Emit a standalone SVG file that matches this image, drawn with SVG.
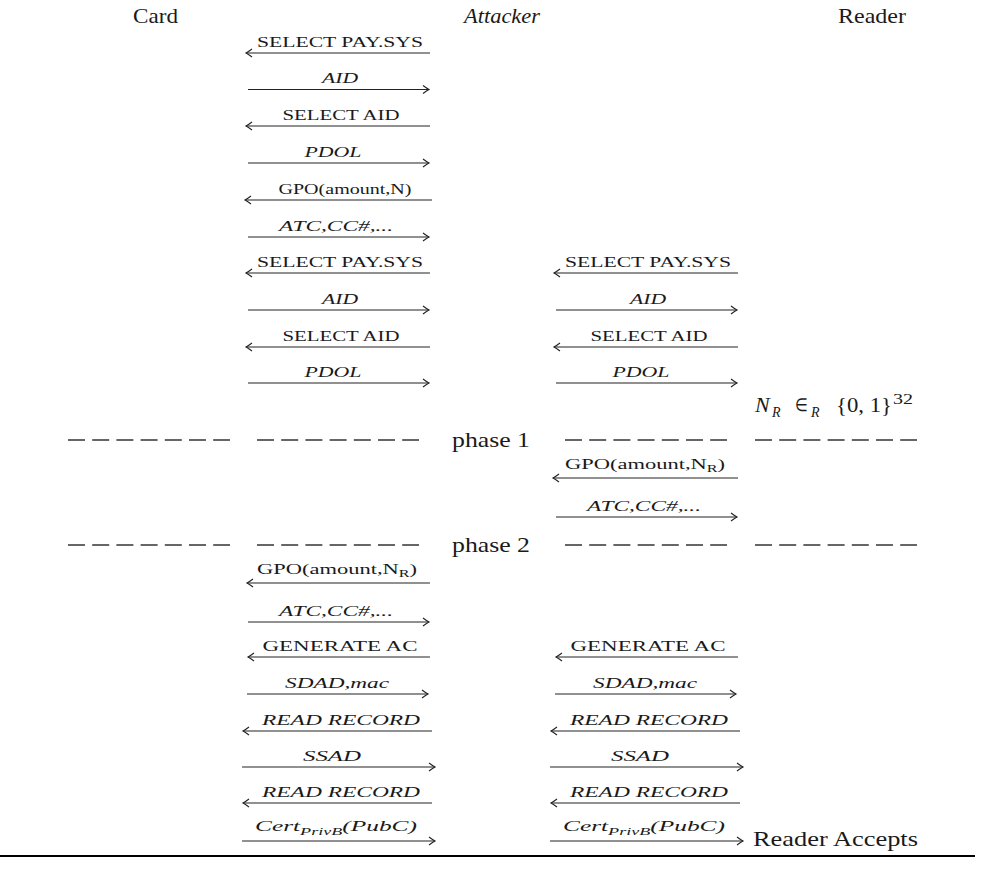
<svg xmlns="http://www.w3.org/2000/svg" width="987" height="871" viewBox="0 0 987 871">
<defs>
<style>
text{font-family:"Liberation Serif","Times New Roman",serif;fill:#1a1a1a}
.hdr{font-size:21px}
.lbl{font-size:14px;text-anchor:middle}
.it{font-style:italic}
.arr{stroke:#222;stroke-width:1.2;fill:none}
.dash{stroke:#666;stroke-width:2;stroke-dasharray:17 7.2}
.sub{font-size:10px}
</style>
<marker id="ah" viewBox="-8 -5 10 10" refX="0" refY="0" markerWidth="10" markerHeight="10" markerUnits="userSpaceOnUse" orient="auto-start-reverse">
<path d="M-6,-4 Q-2,-1 0,0 Q-2,1 -6,4" fill="none" stroke="#222" stroke-width="1.1"/>
</marker>
</defs>
<rect width="987" height="871" fill="#fff"/>

<g id="card"><text class="hdr" x="133" y="23" textLength="45" lengthAdjust="spacingAndGlyphs">Card</text></g>
<g id="attacker"><text class="hdr it" x="464" y="23" textLength="76" lengthAdjust="spacingAndGlyphs">Attacker</text></g>
<g id="reader"><text class="hdr" x="838" y="23" textLength="68" lengthAdjust="spacingAndGlyphs">Reader</text></g>

<g id="connectors">
<line class="arr" x1="246" y1="53" x2="430" y2="53" marker-start="url(#ah)"/>
<text class="lbl" x="340" y="47" textLength="166" lengthAdjust="spacingAndGlyphs">SELECT PAY.SYS</text>
<line class="arr" x1="248" y1="89.5" x2="429" y2="89.5" marker-end="url(#ah)"/>
<text class="lbl it" x="340" y="83" textLength="36" lengthAdjust="spacingAndGlyphs">AID</text>
<line class="arr" x1="246" y1="126" x2="430" y2="126" marker-start="url(#ah)"/>
<text class="lbl" x="341" y="120" textLength="117" lengthAdjust="spacingAndGlyphs">SELECT AID</text>
<line class="arr" x1="248" y1="163" x2="429" y2="163" marker-end="url(#ah)"/>
<text class="lbl it" x="333" y="157" textLength="57" lengthAdjust="spacingAndGlyphs">PDOL</text>
<line class="arr" x1="245" y1="200" x2="432" y2="200" marker-start="url(#ah)"/>
<text class="lbl" x="345" y="194" textLength="133" lengthAdjust="spacingAndGlyphs">GPO(amount,N)</text>
<line class="arr" x1="248" y1="237" x2="429" y2="237" marker-end="url(#ah)"/>
<text class="lbl it" x="336" y="231" textLength="114" lengthAdjust="spacingAndGlyphs">ATC,CC#,...</text>
<line class="arr" x1="246" y1="273" x2="430" y2="273" marker-start="url(#ah)"/>
<text class="lbl" x="340" y="267" textLength="166" lengthAdjust="spacingAndGlyphs">SELECT PAY.SYS</text>
<line class="arr" x1="248" y1="310" x2="429" y2="310" marker-end="url(#ah)"/>
<text class="lbl it" x="340" y="304" textLength="36" lengthAdjust="spacingAndGlyphs">AID</text>
<line class="arr" x1="246" y1="347" x2="430" y2="347" marker-start="url(#ah)"/>
<text class="lbl" x="341" y="341" textLength="117" lengthAdjust="spacingAndGlyphs">SELECT AID</text>
<line class="arr" x1="248" y1="383" x2="429" y2="383" marker-end="url(#ah)"/>
<text class="lbl it" x="333" y="377" textLength="57" lengthAdjust="spacingAndGlyphs">PDOL</text>
<line class="arr" x1="554" y1="273" x2="738" y2="273" marker-start="url(#ah)"/>
<text class="lbl" x="648" y="267" textLength="166" lengthAdjust="spacingAndGlyphs">SELECT PAY.SYS</text>
<line class="arr" x1="556" y1="310" x2="737" y2="310" marker-end="url(#ah)"/>
<text class="lbl it" x="648" y="304" textLength="36" lengthAdjust="spacingAndGlyphs">AID</text>
<line class="arr" x1="554" y1="347" x2="738" y2="347" marker-start="url(#ah)"/>
<text class="lbl" x="649" y="341" textLength="117" lengthAdjust="spacingAndGlyphs">SELECT AID</text>
<line class="arr" x1="556" y1="383" x2="737" y2="383" marker-end="url(#ah)"/>
<text class="lbl it" x="641" y="377" textLength="57" lengthAdjust="spacingAndGlyphs">PDOL</text>
<line class="arr" x1="553" y1="478" x2="738" y2="478" marker-start="url(#ah)"/>
<text class="lbl" x="645" y="469" textLength="160" lengthAdjust="spacingAndGlyphs">GPO(amount,N<tspan class="sub" dy="3">R</tspan><tspan dy="-3">)</tspan></text>
<line class="arr" x1="556" y1="517" x2="737" y2="517" marker-end="url(#ah)"/>
<text class="lbl it" x="644" y="511" textLength="114" lengthAdjust="spacingAndGlyphs">ATC,CC#,...</text>
<line class="arr" x1="247" y1="583" x2="430" y2="583" marker-start="url(#ah)"/>
<text class="lbl" x="337" y="574" textLength="160" lengthAdjust="spacingAndGlyphs">GPO(amount,N<tspan class="sub" dy="3">R</tspan><tspan dy="-3">)</tspan></text>
<line class="arr" x1="248" y1="622" x2="429" y2="622" marker-end="url(#ah)"/>
<text class="lbl it" x="336" y="616" textLength="114" lengthAdjust="spacingAndGlyphs">ATC,CC#,...</text>
<line class="arr" x1="248" y1="657" x2="430" y2="657" marker-start="url(#ah)"/>
<text class="lbl" x="340" y="651" textLength="155" lengthAdjust="spacingAndGlyphs">GENERATE AC</text>
<line class="arr" x1="247" y1="694" x2="428" y2="694" marker-end="url(#ah)"/>
<text class="lbl it" x="337" y="688" textLength="104" lengthAdjust="spacingAndGlyphs">SDAD,mac</text>
<line class="arr" x1="243" y1="731" x2="432" y2="731" marker-start="url(#ah)"/>
<text class="lbl it" x="341" y="725" textLength="158" lengthAdjust="spacingAndGlyphs">READ RECORD</text>
<line class="arr" x1="242" y1="767" x2="435" y2="767" marker-end="url(#ah)"/>
<text class="lbl it" x="332" y="761" textLength="58" lengthAdjust="spacingAndGlyphs">SSAD</text>
<line class="arr" x1="243" y1="803" x2="432" y2="803" marker-start="url(#ah)"/>
<text class="lbl it" x="341" y="797" textLength="158" lengthAdjust="spacingAndGlyphs">READ RECORD</text>
<line class="arr" x1="242" y1="841" x2="435" y2="841" marker-end="url(#ah)"/>
<text class="lbl it" x="336" y="831" textLength="162" lengthAdjust="spacingAndGlyphs">Cert<tspan class="sub" dy="4">PrivB</tspan><tspan dy="-4">(PubC)</tspan></text>
<line class="arr" x1="556" y1="657" x2="738" y2="657" marker-start="url(#ah)"/>
<text class="lbl" x="648" y="651" textLength="155" lengthAdjust="spacingAndGlyphs">GENERATE AC</text>
<line class="arr" x1="555" y1="694" x2="736" y2="694" marker-end="url(#ah)"/>
<text class="lbl it" x="645" y="688" textLength="104" lengthAdjust="spacingAndGlyphs">SDAD,mac</text>
<line class="arr" x1="551" y1="731" x2="740" y2="731" marker-start="url(#ah)"/>
<text class="lbl it" x="649" y="725" textLength="158" lengthAdjust="spacingAndGlyphs">READ RECORD</text>
<line class="arr" x1="550" y1="767" x2="743" y2="767" marker-end="url(#ah)"/>
<text class="lbl it" x="640" y="761" textLength="58" lengthAdjust="spacingAndGlyphs">SSAD</text>
<line class="arr" x1="551" y1="803" x2="740" y2="803" marker-start="url(#ah)"/>
<text class="lbl it" x="649" y="797" textLength="158" lengthAdjust="spacingAndGlyphs">READ RECORD</text>
<line class="arr" x1="550" y1="841" x2="743" y2="841" marker-end="url(#ah)"/>
<text class="lbl it" x="644" y="831" textLength="162" lengthAdjust="spacingAndGlyphs">Cert<tspan class="sub" dy="4">PrivB</tspan><tspan dy="-4">(PubC)</tspan></text>
</g>

<g id="nonce">
<text class="it" x="755" y="412" font-size="22">N</text>
<text class="it" x="772" y="417" font-size="14">R</text>
<text x="795" y="411" font-size="18" textLength="13" lengthAdjust="spacingAndGlyphs">∈</text>
<text class="it" x="811" y="417" font-size="14">R</text>
<text x="836" y="412" font-size="22" textLength="56" lengthAdjust="spacingAndGlyphs">{0, 1}</text>
<text x="893" y="404" font-size="15" textLength="20" lengthAdjust="spacingAndGlyphs">32</text>
</g>

<g id="phase1">
<line class="dash" x1="68" y1="440" x2="230" y2="440"/>
<line class="dash" x1="257" y1="440" x2="419" y2="440"/>
<text class="hdr" x="452" y="447" textLength="78" lengthAdjust="spacingAndGlyphs">phase 1</text>
<line class="dash" x1="565" y1="440" x2="727" y2="440"/>
<line class="dash" x1="755" y1="440" x2="917" y2="440"/>
</g>
<g id="phase2">
<line class="dash" x1="68" y1="545" x2="230" y2="545"/>
<line class="dash" x1="257" y1="545" x2="419" y2="545"/>
<text class="hdr" x="452" y="552" textLength="78" lengthAdjust="spacingAndGlyphs">phase 2</text>
<line class="dash" x1="565" y1="545" x2="727" y2="545"/>
<line class="dash" x1="755" y1="545" x2="917" y2="545"/>
</g>

<g id="accepts"><text class="hdr" x="753" y="846" textLength="165" lengthAdjust="spacingAndGlyphs">Reader Accepts</text></g>
<line x1="0" y1="856" x2="975" y2="856" stroke="#000" stroke-width="2"/>
</svg>
